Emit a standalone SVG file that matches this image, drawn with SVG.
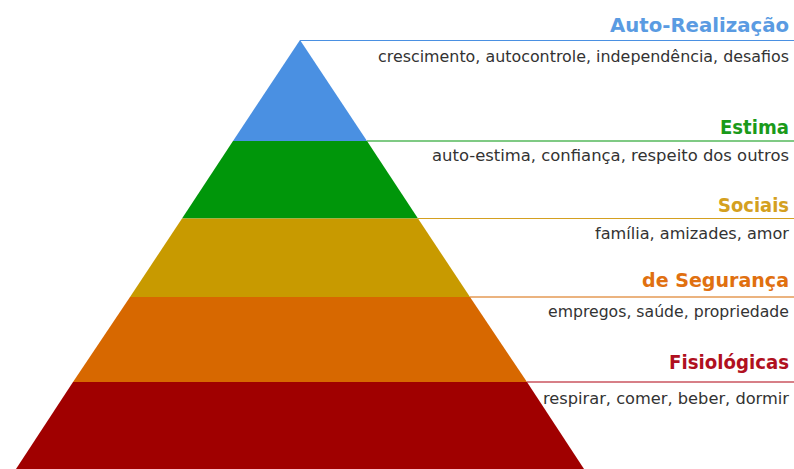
<svg xmlns="http://www.w3.org/2000/svg" width="794" height="469" viewBox="0 0 794 469">
<style>
.t{font-family:"DejaVu Sans","Liberation Sans",sans-serif;font-weight:bold;font-size:19px;text-anchor:end}
.s{font-family:"DejaVu Sans","Liberation Sans",sans-serif;font-size:15px;fill:#333;text-anchor:end}
</style>
<rect width="794" height="469" fill="#fff"/>
<g id="layer-auto-realizacao">
<polygon points="300,40 367,141 233,141" fill="#4a90e2"/>
</g>
<g id="layer-estima">
<polygon points="233,141 367,141 418,218.5 182,218.5" fill="#00960a"/>
</g>
<g id="layer-sociais">
<polygon points="182,218.5 418,218.5 470,297 130,297" fill="#c89a00"/>
</g>
<g id="layer-seguranca">
<polygon points="130,297 470,297 527,382 73,382" fill="#d76800"/>
</g>
<g id="layer-fisiologicas">
<polygon points="73,382 527,382 584,469 16,469" fill="#a00000"/>
</g>
<g id="connectors" fill="none" stroke-width="1.2">
<line x1="300" y1="40.5" x2="794" y2="40.5" stroke="#4a90e2"/>
<line x1="367" y1="141" x2="794" y2="141" stroke="#00960a"/>
<line x1="418" y1="218.5" x2="794" y2="218.5" stroke="#d4a020"/>
<line x1="470" y1="297" x2="794" y2="297" stroke="#d76800"/>
<line x1="527" y1="382" x2="794" y2="382" stroke="#b00010"/>
</g>
<g id="labels">
<text class="t" x="789" y="32" fill="#5a9be2" textLength="179" lengthAdjust="spacingAndGlyphs">Auto-Realização</text>
<text class="s" x="789" y="62" textLength="411" lengthAdjust="spacingAndGlyphs">crescimento, autocontrole, independência, desafios</text>
<text class="t" x="789" y="134" fill="#1a9a1a" textLength="69" lengthAdjust="spacingAndGlyphs">Estima</text>
<text class="s" x="789" y="161" textLength="357" lengthAdjust="spacingAndGlyphs">auto-estima, confiança, respeito dos outros</text>
<text class="t" x="789" y="212" fill="#d4a020" textLength="71" lengthAdjust="spacingAndGlyphs">Sociais</text>
<text class="s" x="789" y="239" textLength="194" lengthAdjust="spacingAndGlyphs">família, amizades, amor</text>
<text class="t" x="789" y="287" fill="#e07010" textLength="147" lengthAdjust="spacingAndGlyphs">de Segurança</text>
<text class="s" x="789" y="317" textLength="241" lengthAdjust="spacingAndGlyphs">empregos, saúde, propriedade</text>
<text class="t" x="789" y="369" fill="#b01020" textLength="120" lengthAdjust="spacingAndGlyphs">Fisiológicas</text>
<text class="s" x="789" y="404" textLength="246" lengthAdjust="spacingAndGlyphs">respirar, comer, beber, dormir</text>
</g>
</svg>
